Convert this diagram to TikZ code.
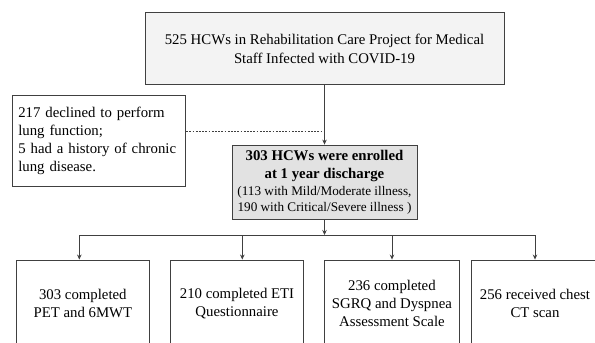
\documentclass[tikz,border=0pt]{standalone}
\usepackage{fontspec}
\setmainfont{Liberation Serif}
\usetikzlibrary{arrows.meta}
\definecolor{linegray}{HTML}{404040}
\definecolor{topfill}{HTML}{F3F3F3}
\definecolor{midfill}{HTML}{E2E2E2}
\tikzset{
  box/.style={draw=linegray, line width=0.9pt, rectangle, inner sep=0pt, align=center,
    font=\fontsize{14.8}{17.7}\selectfont},
  conn/.style={draw=linegray, line width=0.8pt},
  arr/.style={conn, -{Stealth[length=5pt,width=4.5pt]}},
  dsh/.style={conn, line width=0.6pt, dash pattern=on 1.8pt off 1.4pt},
}
\newcommand{\smalltxt}{\fontsize{13.2}{16}\selectfont}
\begin{document}
\begin{tikzpicture}[x=1pt,y=-1pt]
\useasboundingbox (0,0) rectangle (595,343);
\clip (0,0) rectangle (595,343);
\fill[white] (0,0) rectangle (595,343);

\node[box, fill=topfill, minimum width=359pt, minimum height=72pt,
      font=\fontsize{14.8}{19.2}\selectfont] (top) at (324.5,48.5)
  {525 HCWs in Rehabilitation Care Project for Medical\\Staff Infected with COVID-19};

\node[box, fill=white, minimum width=173pt, minimum height=91.7pt, align=left,
      text width=161.8pt] (left) at (99.2,140.85)
  {217 declined to perform\\lung function;\\5 had a history of chronic\\lung disease.};

\node[box, fill=midfill, minimum width=185pt, minimum height=74.5pt] (mid) at (324.5,182.3)
  {\textbf{303 HCWs were enrolled}\\\textbf{at 1 year discharge}\\[-1pt]
   {\smalltxt (113 with Mild/Moderate illness,}\\[-1.5pt]
   {\smalltxt 190 with Critical/Severe illness )}};

\node[box, fill=white, minimum width=132.3pt, minimum height=87.2pt] (b1) at (82.85,303.6)
  {303 completed\\PET and 6MWT};
\node[box, fill=white, minimum width=132.6pt, minimum height=87.2pt] (b2) at (237,303.6)
  {210 completed ETI\\Questionnaire};
\node[box, fill=white, minimum width=134.8pt, minimum height=87.2pt] (b3) at (391.9,303.6)
  {236 completed\\SGRQ and Dyspnea\\Assessment Scale};
\node[box, fill=white, minimum width=128pt, minimum height=87.2pt] (b4) at (535,303.6)
  {256 received chest\\CT scan};

% connectors
\draw[arr] (top) -- (mid);
\coordinate (dy) at (0,131.7);
\draw[dsh] (left.east |- dy) -- (top.south |- dy);

\coordinate (hub) at (324.5,235);
\coordinate (j1) at (79.3,235);
\coordinate (j2) at (242.3,235);
\coordinate (j3) at (392,235);
\coordinate (j4) at (535,235);
\draw[arr] (mid) -- (hub);
\draw[conn] (j1) -- (j4);
\draw[arr] (j1) -- (j1 |- b1.north);
\draw[arr] (j2) -- (j2 |- b2.north);
\draw[arr] (j3) -- (j3 |- b3.north);
\draw[arr] (j4) -- (j4 |- b4.north);
\end{tikzpicture}
\end{document}
